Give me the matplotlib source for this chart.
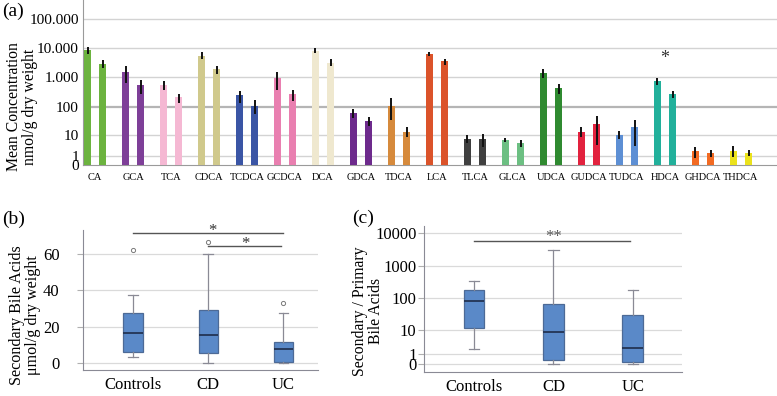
import numpy as np
import matplotlib.pyplot as plt

plt.rcParams['font.family'] = ['Liberation Serif', 'DejaVu Serif']

# ---- panel (a) data: mean concentration, nmol/g dry weight ----
acids = ['CA', 'GCA', 'TCA', 'CDCA', 'TCDCA', 'GCDCA', 'DCA', 'GDCA', 'TDCA',
         'LCA', 'TLCA', 'GLCA', 'UDCA', 'GUDCA', 'TUDCA', 'HDCA', 'GHDCA', 'THDCA']
mean_1 = [8700, 1500, 530, 5400, 240, 950, 8100, 61, 107,
          6600, 7, 6.3, 1370, 13, 9.5, 740, 2.0, 2.0]
low_1 = [6600, 660, 360, 4200, 135, 360, 7000, 41, 33,
         5400, 4.6, 5.1, 970, 8, 7, 570, 0.74, 0.84]
high_1 = [11000, 2400, 750, 7400, 350, 1600, 10400, 82, 190,
          7700, 9.3, 7.7, 1900, 19, 13.5, 950, 3.3, 3.5]
mean_2 = [2950, 530, 210, 2000, 105, 260, 3200, 31, 13,
          3550, 7, 4.6, 430, 24, 19.5, 265, 1.6, 1.6]
low_2 = [2050, 280, 130, 1300, 55, 150, 2450, 20, 8,
         2600, 3.3, 3.3, 280, 4, 3.6, 200, 0.93, 1.1]
high_2 = [3900, 790, 270, 2550, 165, 380, 4400, 42, 19,
          4400, 11, 6.1, 600, 45, 35, 350, 2.3, 2.3]
acid_colors = ['#6cb33f', '#7e3f98', '#f5b8d3', '#d0c98c', '#3a55a5', '#e97fb0',
               '#efe8cf', '#6d2a8c', '#d68a3c', '#db532a', '#3f3f3f', '#6cbf82',
               '#2f8a30', '#e2223e', '#5d8fd4', '#22b09b', '#f26a22', '#ebe21c']
a_ticks = [0, 1, 10, 100, 1000, 10000, 100000]
a_ticklabels = ['0', '1', '10', '100', '1.000', '10.000', '100.000']

# ---- panel (b): secondary bile acids, umol/g dry weight ----
groups = ['Controls', 'CD', 'UC']
b_whislo = [3.5, 0, 0]
b_q1 = [6.2, 5.3, 0.5]
b_med = [16.3, 15.2, 7.5]
b_q3 = [27.3, 29.2, 11.6]
b_whishi = [37.2, 60.2, 27.3]
b_fliers = [[62], [66.8], [32.8]]
b_ticks = [0, 20, 40, 60]

# ---- panel (c): secondary / primary ratio ----
c_whislo = [1.72, 0, 0]
c_q1 = [11.8, 0.27, 0.1]
c_med = [81, 8.4, 2.0]
c_q3 = [184, 68, 30]
c_whishi = [351, 3000, 188]
c_ticks = [0, 1, 10, 100, 1000, 10000]


def fwd(v):
    return np.log10(np.clip(np.asarray(v, dtype=float) + 1, 1e-3, None))


def inv(y):
    return 10 ** np.asarray(y, dtype=float) - 1


fig = plt.figure(figsize=(7.77, 3.96), dpi=100)

# ================= panel (a) =================
ax = fig.add_axes([83 / 777, 1 - 165 / 396, 1 - 83 / 777, 165 / 396])
ax.set_yscale('function', functions=(fwd, inv))
x = np.arange(len(acids))
yerr1 = [np.array(mean_1) - np.array(low_1), np.array(high_1) - np.array(mean_1)]
yerr2 = [np.array(mean_2) - np.array(low_2), np.array(high_2) - np.array(mean_2)]
ax.bar(x - 0.2, mean_1, width=0.18, color=acid_colors, zorder=3)
ax.bar(x + 0.2, mean_2, width=0.18, color=acid_colors, zorder=3)
ax.errorbar(x - 0.2, mean_1, yerr=yerr1, fmt='none', ecolor='#111111', elinewidth=1.4, zorder=4)
ax.errorbar(x + 0.2, mean_2, yerr=yerr2, fmt='none', ecolor='#111111', elinewidth=1.4, zorder=4)
for t in a_ticks[1:]:
    if t == 100:
        ax.axhline(t, color='#b5b5b5', lw=1.6, zorder=1)
    else:
        ax.axhline(t, color='#d3d3d3', lw=1.0, zorder=1)
ax.text(15, 4500, '*', ha='center', va='center', fontsize=13, color='#333333')
ax.set_ylim(0, 10 ** 5.655 - 1)
ax.set_xlim(-0.32, 17.95)
ax.set_yticks(a_ticks)
ax.set_yticklabels(a_ticklabels, fontsize=11)
ax.set_xticks(x)
ax.set_xticklabels(acids, fontsize=7.5)
ax.tick_params(axis='both', length=0)
ax.tick_params(axis='x', pad=6)
ax.tick_params(axis='y', pad=3)
ax.minorticks_off()
for s in ['top', 'right']:
    ax.spines[s].set_visible(False)
for s in ['left', 'bottom']:
    ax.spines[s].set_color('#9a9a9a')
ax.set_ylabel('Mean Concentration\nnmol/g dry weight', fontsize=11.3, linespacing=1.0)
ax.yaxis.set_label_coords(-0.0648, 0.352)
fig.text(0.003, 1 - 11 / 396, '(a)', fontsize=14, va='center')


def box_stats(wlo, q1, med, q3, whi, fl):
    out = []
    for i in range(len(groups)):
        out.append(dict(whislo=wlo[i], q1=q1[i], med=med[i], q3=q3[i],
                        whishi=whi[i], fliers=fl[i], label=groups[i]))
    return out


box_kw = dict(widths=0.26, patch_artist=True, showcaps=True,
              boxprops=dict(facecolor='#5a89c8', edgecolor='#4d6a96', lw=0.9),
              medianprops=dict(color='#1f2d4a', lw=1.2),
              whiskerprops=dict(color='#8a8a95', lw=0.9),
              capprops=dict(color='#8a8a95', lw=0.9),
              flierprops=dict(marker='o', markersize=3, markerfacecolor='none',
                              markeredgecolor='#7a7a7a', markeredgewidth=0.7))


def style_box_axes(axx, ypad):
    for s in ['top', 'right']:
        axx.spines[s].set_visible(False)
    for s in ['left', 'bottom']:
        axx.spines[s].set_color('#8a8a95')
    axx.tick_params(axis='x', length=0, pad=5, labelsize=12)
    axx.tick_params(axis='y', length=4, width=0.8, color='#b0b0b0', pad=ypad, labelsize=12)


# ================= panel (b) =================
axb = fig.add_axes([83 / 777, 1 - 370 / 396, (318 - 83) / 777, 140 / 396])
axb.bxp(box_stats(b_whislo, b_q1, b_med, b_q3, b_whishi, b_fliers),
        positions=[0, 1, 2], **box_kw)
for t in b_ticks:
    axb.axhline(t, color='#dadada', lw=0.9, zorder=0)
axb.set_ylim(-3.8, 73.2)
axb.set_xlim(-0.667, 2.46)
axb.set_yticks(b_ticks)
axb.set_xticks([0, 1, 2])
axb.set_xticklabels(groups)
style_box_axes(axb, 13)
axb.plot([0, 2], [71.7, 71.7], color='#555555', lw=1.0)
axb.text(1.05, 72.5, '*', ha='center', va='center', fontsize=12, color='#333333')
axb.plot([1, 1.97], [64.6, 64.6], color='#555555', lw=1.0)
axb.text(1.5, 65.4, '*', ha='center', va='center', fontsize=12, color='#333333')
axb.set_ylabel('Secondary Bile Acids\nμmol/g dry weight', fontsize=11.6, linespacing=1.0)
axb.yaxis.set_label_coords(-0.178, 0.393)
fig.text(0.003, 1 - 219 / 396, '(b)', fontsize=14, va='center')

# ================= panel (c) =================
axc = fig.add_axes([424 / 777, 1 - 372 / 396, (682 - 424) / 777, 146 / 396])
axc.set_yscale('function', functions=(fwd, inv))
axc.bxp(box_stats(c_whislo, c_q1, c_med, c_q3, c_whishi, [[], [], []]),
        positions=[0, 1, 2], **box_kw)
for t in c_ticks:
    axc.axhline(t, color='#dadada', lw=0.9, zorder=0)
axc.set_ylim(-0.45, 10 ** 4.23 - 1)
axc.set_xlim(-0.63, 2.62)
axc.set_yticks(c_ticks)
axc.set_yticklabels([str(t) for t in c_ticks])
axc.minorticks_off()
axc.set_xticks([0, 1, 2])
axc.set_xticklabels(groups)
style_box_axes(axc, 1.5)
axc.plot([0, 1.97], [5970, 5970], color='#555555', lw=1.0)
axc.text(1.0, 7600, '**', ha='center', va='center', fontsize=12, color='#555555')
axc.set_ylabel('Secondary / Primary\nBile Acids', fontsize=11.3, linespacing=1.0)
axc.yaxis.set_label_coords(-0.155, 0.418)
fig.text(352 / 777, 1 - 218 / 396, '(c)', fontsize=14, va='center')

fig.savefig('out.png', dpi=100)
